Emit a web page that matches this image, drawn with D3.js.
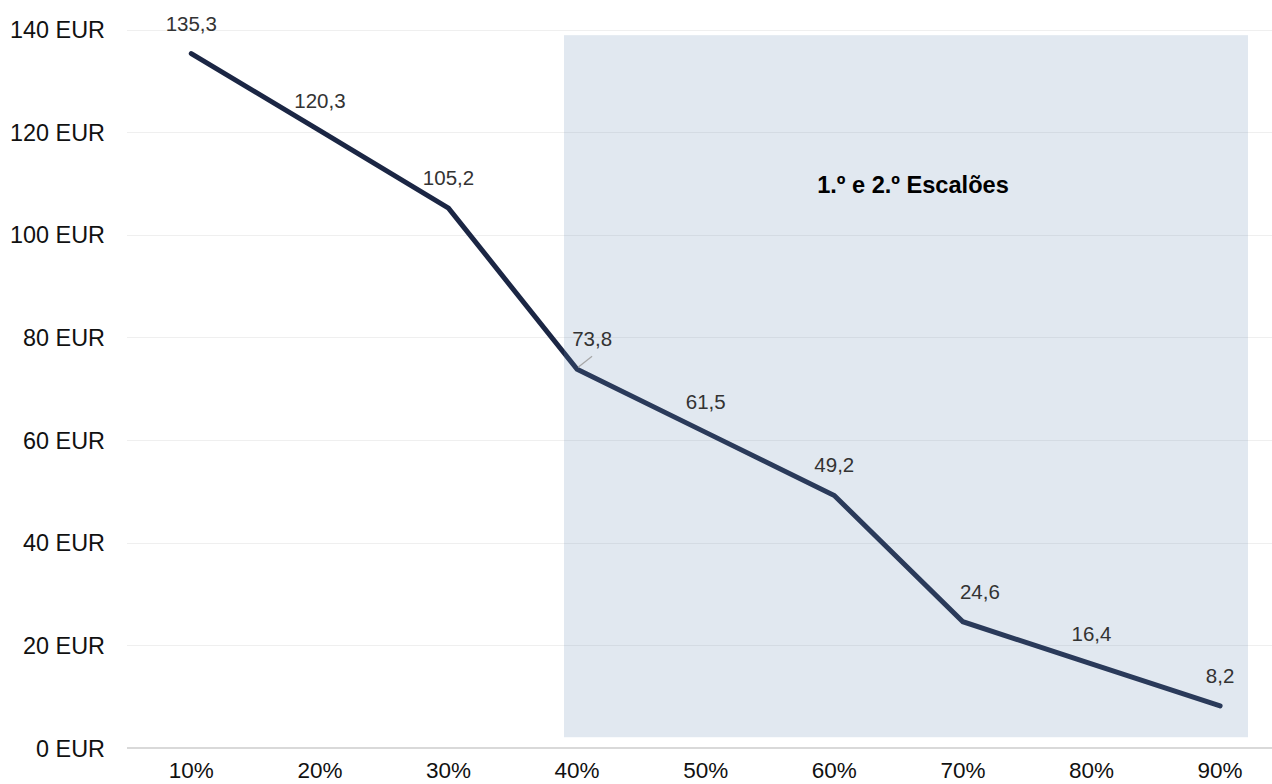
<!DOCTYPE html>
<html>
<head>
<meta charset="utf-8">
<script src="https://cdn.jsdelivr.net/npm/d3@7"></script>
<style>
  body { margin: 0; background: #fff; }
  svg { display: block; font-family: "Liberation Sans", Arial, sans-serif; }
</style>
</head>
<body>
<div id="chart"></div>
<script>
// Chart data
const categories = ["10%", "20%", "30%", "40%", "50%", "60%", "70%", "80%", "90%"];
const values = [135.3, 120.3, 105.2, 73.8, 61.5, 49.2, 24.6, 16.4, 8.2];
const yTicks = [0, 20, 40, 60, 80, 100, 120, 140];
const shadeLabel = "1.º e 2.º Escalões";

const width = 1272, height = 784;
const svg = d3.select("#chart").append("svg")
    .attr("width", width)
    .attr("height", height);

// Scales: category axis between tick marks, like the spreadsheet chart
const x = d3.scaleBand().domain(categories).range([127, 1284.4]).padding(0);
const cx = c => x(c) + x.bandwidth() / 2;
const bandIdx = d3.scaleLinear().domain([0, categories.length]).range([127, 1284.4]);
const y = d3.scaleLinear().domain([0, 140]).range([748, 29.5]);

// Gridlines
svg.append("g")
    .selectAll("line")
    .data(yTicks.filter(d => d > 0))
    .join("line")
    .attr("x1", 127)
    .attr("x2", width)
    .attr("y1", d => Math.round(y(d)) + 0.5)
    .attr("y2", d => Math.round(y(d)) + 0.5)
    .attr("stroke", "#efefef")
    .attr("stroke-width", 1);

// Y axis labels
svg.append("g")
    .selectAll("text")
    .data(yTicks)
    .join("text")
    .attr("x", 105)
    .attr("y", d => y(d) + 8.5)
    .attr("text-anchor", "end")
    .attr("fill", "#111")
    .style("font-size", "23.4px")
    .text(d => `${d} EUR`);

// X axis line and labels
svg.append("line")
    .attr("x1", 127)
    .attr("x2", width)
    .attr("y1", 748)
    .attr("y2", 748)
    .attr("stroke", "#d9d9d9")
    .attr("stroke-width", 2);

svg.append("g")
    .selectAll("text")
    .data(categories)
    .join("text")
    .attr("x", d => cx(d))
    .attr("y", 778)
    .attr("text-anchor", "middle")
    .attr("fill", "#111")
    .style("font-size", "22.5px")
    .text(d => d);

// Line
const line = d3.line()
    .x((d, i) => cx(categories[i]))
    .y(d => y(d));

svg.append("path")
    .datum(values)
    .attr("fill", "none")
    .attr("stroke", "#1b2644")
    .attr("stroke-width", 5)
    .attr("stroke-linecap", "round")
    .attr("stroke-linejoin", "miter")
    .attr("d", line);

// Shaded region (semi-transparent, on top of the line)
const sx0 = bandIdx(3.398), sx1 = bandIdx(8.717);
const sy0 = y(138.9), sy1 = y(2.1);
svg.append("rect")
    .attr("x", sx0)
    .attr("y", sy0)
    .attr("width", sx1 - sx0)
    .attr("height", sy1 - sy0)
    .attr("fill", "#6a8bb6")
    .attr("fill-opacity", 0.2);

svg.append("text")
    .attr("x", (sx0 + sx1) / 2 + 7)
    .attr("y", sy0 + 158)
    .attr("text-anchor", "middle")
    .attr("fill", "#000")
    .style("font-size", "23.6px")
    .style("font-weight", "bold")
    .text(shadeLabel);

// Data labels
const fmt = v => v.toFixed(1).replace(".", ",");
const labelShift = [0, 0, 0, 15, 0, 0, 17, 0, 0];

svg.append("g")
    .selectAll("text")
    .data(values)
    .join("text")
    .attr("x", (d, i) => cx(categories[i]) + labelShift[i])
    .attr("y", d => y(d) - 23)
    .attr("text-anchor", "middle")
    .attr("fill", "#333")
    .style("font-size", "20.5px")
    .text(d => fmt(d));

// Leader line for the 73,8 label
const li = 3;
svg.append("line")
    .attr("x1", cx(categories[li]) + 1)
    .attr("y1", y(values[li]) - 2)
    .attr("x2", cx(categories[li]) + 15)
    .attr("y2", y(values[li]) - 13)
    .attr("stroke", "#a6a6a6")
    .attr("stroke-width", 1.2);
</script>
</body>
</html>
